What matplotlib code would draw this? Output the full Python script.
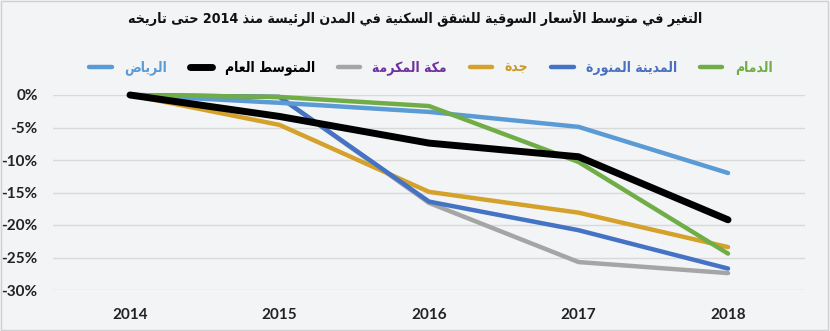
import re
import numpy as np
import matplotlib
matplotlib.use('Agg')
import matplotlib.pyplot as plt
from matplotlib.patches import Rectangle

# Data (percent change vs 2014)
years = ['2014', '2015', '2016', '2017', '2018']
riyadh = [0, -1.2, -2.6, -4.9, -12.0]
average = [0, -3.3, -7.4, -9.5, -19.2]
makkah = [0, -0.3, -16.6, -25.7, -27.4]
jeddah = [0, -4.6, -14.9, -18.1, -23.4]
madinah = [0, -0.3, -16.4, -20.8, -26.7]
dammam = [0, -0.3, -1.7, -10.3, -24.4]

title = 'التغير في متوسط الأسعار السوقية للشقق السكنية في المدن الرئيسة منذ 2014 حتى تاريخه'
names = ['الرياض', 'المتوسط العام', 'مكة المكرمة', 'جدة', 'المدينة المنورة', 'الدمام']
yticks = [0, -5, -10, -15, -20, -25, -30]

# Arabic presentation forms: (isolated, final, initial, medial); 2-tuples only join on the right
FORMS = {
    'ء': (0xFE80,), 'آ': (0xFE81, 0xFE82), 'أ': (0xFE83, 0xFE84), 'ؤ': (0xFE85, 0xFE86),
    'إ': (0xFE87, 0xFE88), 'ئ': (0xFE89, 0xFE8A, 0xFE8B, 0xFE8C), 'ا': (0xFE8D, 0xFE8E),
    'ب': (0xFE8F, 0xFE90, 0xFE91, 0xFE92), 'ة': (0xFE93, 0xFE94),
    'ت': (0xFE95, 0xFE96, 0xFE97, 0xFE98), 'ث': (0xFE99, 0xFE9A, 0xFE9B, 0xFE9C),
    'ج': (0xFE9D, 0xFE9E, 0xFE9F, 0xFEA0), 'ح': (0xFEA1, 0xFEA2, 0xFEA3, 0xFEA4),
    'خ': (0xFEA5, 0xFEA6, 0xFEA7, 0xFEA8), 'د': (0xFEA9, 0xFEAA), 'ذ': (0xFEAB, 0xFEAC),
    'ر': (0xFEAD, 0xFEAE), 'ز': (0xFEAF, 0xFEB0), 'س': (0xFEB1, 0xFEB2, 0xFEB3, 0xFEB4),
    'ش': (0xFEB5, 0xFEB6, 0xFEB7, 0xFEB8), 'ص': (0xFEB9, 0xFEBA, 0xFEBB, 0xFEBC),
    'ض': (0xFEBD, 0xFEBE, 0xFEBF, 0xFEC0), 'ط': (0xFEC1, 0xFEC2, 0xFEC3, 0xFEC4),
    'ظ': (0xFEC5, 0xFEC6, 0xFEC7, 0xFEC8), 'ع': (0xFEC9, 0xFECA, 0xFECB, 0xFECC),
    'غ': (0xFECD, 0xFECE, 0xFECF, 0xFED0), 'ف': (0xFED1, 0xFED2, 0xFED3, 0xFED4),
    'ق': (0xFED5, 0xFED6, 0xFED7, 0xFED8), 'ك': (0xFED9, 0xFEDA, 0xFEDB, 0xFEDC),
    'ل': (0xFEDD, 0xFEDE, 0xFEDF, 0xFEE0), 'م': (0xFEE1, 0xFEE2, 0xFEE3, 0xFEE4),
    'ن': (0xFEE5, 0xFEE6, 0xFEE7, 0xFEE8), 'ه': (0xFEE9, 0xFEEA, 0xFEEB, 0xFEEC),
    'و': (0xFEED, 0xFEEE), 'ى': (0xFEEF, 0xFEF0), 'ي': (0xFEF1, 0xFEF2, 0xFEF3, 0xFEF4),
}
LAM_ALEF = {'آ': (0xFEF5, 0xFEF6), 'أ': (0xFEF7, 0xFEF8), 'إ': (0xFEF9, 0xFEFA), 'ا': (0xFEFB, 0xFEFC)}


def shape(text):
    # join letters, then reverse for right-to-left display (digits stay in order)
    chars = list(text)
    out = []
    i = 0
    while i < len(chars):
        c = chars[i]
        prev = chars[i - 1] if i > 0 else ''
        joins_prev = prev in FORMS and len(FORMS[prev]) == 4
        if c == 'ل' and i + 1 < len(chars) and chars[i + 1] in LAM_ALEF:
            f = LAM_ALEF[chars[i + 1]]
            out.append(chr(f[1] if joins_prev else f[0]))
            i += 2
            continue
        if c not in FORMS:
            out.append(c)
            i += 1
            continue
        f = FORMS[c]
        nxt = chars[i + 1] if i + 1 < len(chars) else ''
        joins_next = len(f) == 4 and nxt in FORMS
        if len(f) == 1:
            out.append(chr(f[0]))
        elif joins_prev and joins_next:
            out.append(chr(f[3]))
        elif joins_prev:
            out.append(chr(f[1]))
        elif joins_next:
            out.append(chr(f[2]))
        else:
            out.append(chr(f[0]))
        i += 1
    s = ''.join(out)
    tokens = re.findall(r'[0-9]+|[^0-9]', s)
    return ''.join(reversed(tokens))


line_colors = ['#5b9bd5', '#000000', '#a5a5a5', '#d4a12a', '#4472c4', '#70ad47']
text_colors = ['#5b9bd5', '#000000', '#7030a0', '#c9992a', '#4a6fbf', '#70ad47']
widths = [3.2, 5.0, 3.2, 3.2, 3.2, 3.2]
series = [riyadh, average, makkah, jeddah, madinah, dammam]
# drawing order so the overlaps look like the reference
draw_order = [2, 3, 4, 0, 5, 1]

bg = '#f3f4f6'
fig = plt.figure(figsize=(8.3, 3.31), dpi=100)
fig.patch.set_facecolor(bg)
ax = fig.add_axes([53 / 830, 1 - 290 / 331, 752 / 830, 195 / 331])
ax.set_facecolor(bg)

x = np.arange(len(years))
handles = {}
for k in draw_order:
    ln, = ax.plot(x, series[k], color=line_colors[k], lw=widths[k],
                  solid_capstyle='round', solid_joinstyle='round', clip_on=False, zorder=3)
    handles[k] = ln

ax.set_xlim(-0.515, len(years) - 1 + 0.515)
ax.set_ylim(-30, 0)
ax.set_xticks(x)
ax.set_xticklabels(years)
ax.set_yticks(yticks)
ax.set_yticklabels([f'{v}%' for v in yticks])
ax.tick_params(length=0)
ax.tick_params(axis='x', pad=13)
ax.tick_params(axis='y', pad=11)
for lab in ax.get_xticklabels() + ax.get_yticklabels():
    lab.set_family('Lato')
    lab.set_fontweight('bold')
    lab.set_fontsize(11)
    lab.set_color('#222222')
ax.grid(True, axis='y', color='#d9d9d9', lw=1)
ax.set_axisbelow(True)
for sp in ax.spines.values():
    sp.set_visible(False)

fig.text(0.5, 1 - 19 / 331, shape(title), ha='center', va='center',
         fontsize=10.2, fontweight='bold', family=['DejaVu Sans'], stretch='condensed',
         color='#111111')

leg = fig.legend([handles[k] for k in range(6)], [shape(n) for n in names],
                 loc='center', bbox_to_anchor=(431 / 830, 1 - 68 / 331), ncol=6,
                 frameon=False, handlelength=1.6, handletextpad=0.9, columnspacing=1.65,
                 prop={'family': 'DejaVu Sans', 'weight': 'bold', 'size': 10,
                       'stretch': 'condensed'})
for t, c in zip(leg.get_texts(), text_colors):
    t.set_color(c)

fig.add_artist(Rectangle((0.001, 0.002), 0.997, 0.995, transform=fig.transFigure,
                         fill=False, edgecolor='#d0d0d0', lw=1))

fig.savefig('out.png', dpi=100, facecolor=bg)
